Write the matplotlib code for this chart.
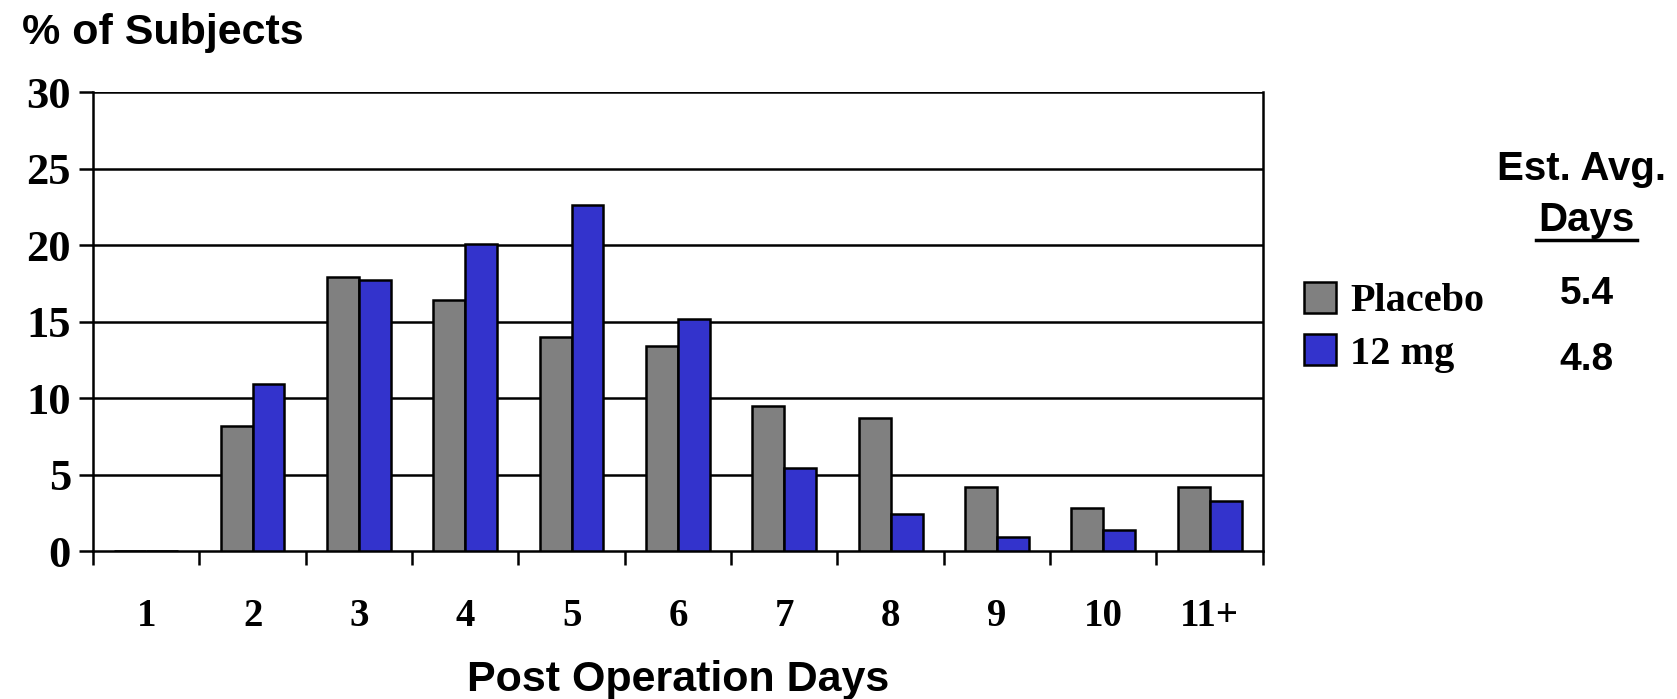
import numpy as np
import matplotlib.pyplot as plt

# % of subjects by post-operation day
days = ["1", "2", "3", "4", "5", "6", "7", "8", "9", "10", "11+"]
placebo = [0, 8.2, 17.9, 16.4, 14.0, 13.4, 9.5, 8.7, 4.2, 2.8, 4.2]
dose_12mg = [0, 10.9, 17.7, 20.1, 22.6, 15.2, 5.4, 2.4, 0.9, 1.4, 3.3]
series_names = ["Placebo", "12 mg"]
avg_days = ["5.4", "4.8"]

serif = ["Liberation Serif", "DejaVu Serif"]
sans = ["Liberation Sans", "DejaVu Sans"]

fig = plt.figure(figsize=(16.77, 6.99), dpi=100)
ax = fig.add_axes([0.0555, 0.2117, 0.6975, 0.6563])

x = np.arange(len(days))
w = 0.3
b1 = ax.bar(x - w / 2, placebo, w, color="#808080", edgecolor="black", linewidth=1.8, zorder=3)
b2 = ax.bar(x + w / 2, dose_12mg, w, color="#3333CC", edgecolor="black", linewidth=1.8, zorder=3)

ax.set_xlim(-0.5, len(days) - 0.5)
ax.set_ylim(0, 30)
ax.set_yticks(range(0, 31, 5))
for yv in range(5, 31, 5):
    ax.axhline(yv, color="black", lw=1.8, zorder=1)

# labels at category centres, tick marks between categories
ax.set_xticks(x)
ax.set_xticklabels(days, fontfamily=serif, fontweight="bold", fontsize=28)
ax.set_xticks(np.arange(-0.5, len(days)), minor=True)
ax.tick_params(axis="x", which="major", length=0, pad=34)
ax.tick_params(axis="x", which="minor", length=10, width=1.8, direction="out")
ax.tick_params(axis="y", length=10, width=1.8, pad=6)
for lab in ax.get_yticklabels():
    lab.set_fontfamily(serif)
    lab.set_fontweight("bold")
    lab.set_fontsize(32)

ax.spines["top"].set_visible(False)
for s in ["left", "bottom", "right"]:
    ax.spines[s].set_linewidth(1.8)

fig.text(0.013, 0.953, "% of Subjects", fontfamily=sans, fontweight="bold",
         fontsize=31, va="center", ha="left")
ax.set_xlabel("Post Operation Days", fontfamily=sans, fontweight="bold",
              fontsize=31, labelpad=18)

leg = fig.legend([b1, b2], series_names, loc="upper left",
                 bbox_to_anchor=(0.768, 0.62), frameon=False,
                 prop={"family": serif, "weight": "bold", "size": 29},
                 handlelength=0.8, handleheight=0.8, handletextpad=0.35,
                 labelspacing=0.35, borderaxespad=0)

fig.text(0.943, 0.758, "Est. Avg.", fontfamily=sans, fontweight="bold",
         fontsize=29, ha="center", va="center")
fig.text(0.946, 0.685, "Days", fontfamily=sans, fontweight="bold",
         fontsize=29, ha="center", va="center")
fig.add_artist(plt.Line2D([0.916, 0.976], [0.657, 0.657], color="black", lw=2.5))
fig.text(0.946, 0.58, avg_days[0], fontfamily=sans, fontweight="bold",
         fontsize=28, ha="center", va="center")
fig.text(0.946, 0.485, avg_days[1], fontfamily=sans, fontweight="bold",
         fontsize=28, ha="center", va="center")

fig.savefig("out.png", dpi=100)
